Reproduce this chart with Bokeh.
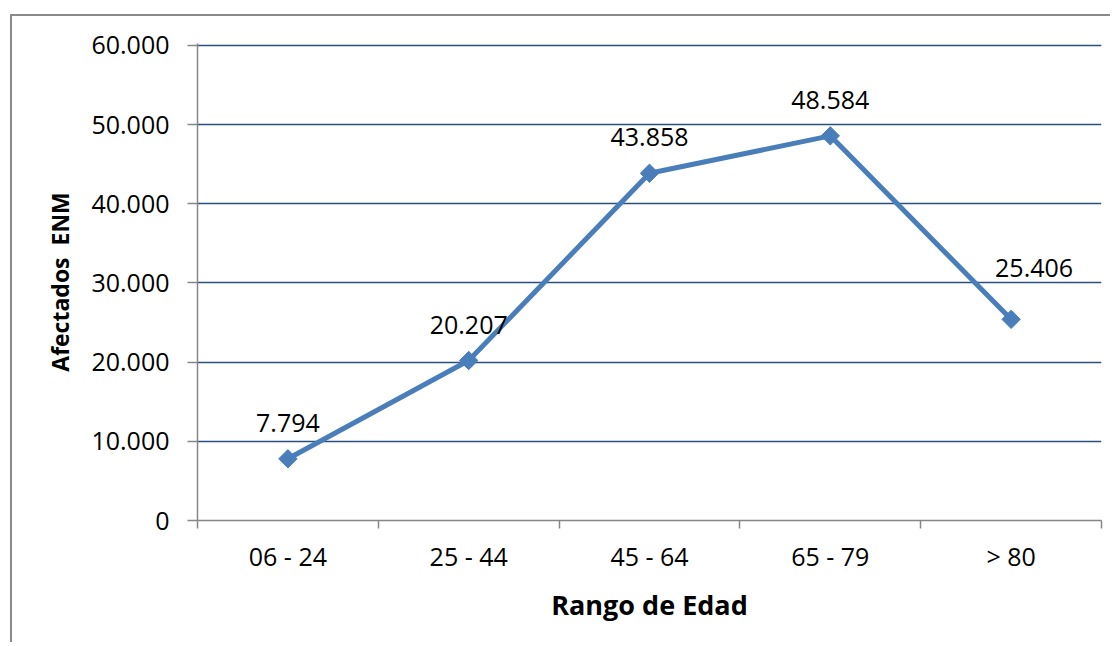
from math import pi
from bokeh.plotting import figure
from bokeh.models import ColumnDataSource, FixedTicker
from bokeh.core.properties import value
from bokeh.embed import file_html
from bokeh.resources import INLINE

categories = ["06 - 24", "25 - 44", "45 - 64", "65 - 79", "> 80"]
afectados = [7794, 20207, 43858, 48584, 25406]
y_ticks = [0, 10000, 20000, 30000, 40000, 50000, 60000]
y_tick_labels = ["0", "10.000", "20.000", "30.000", "40.000", "50.000", "60.000"]
data_labels = ["7.794", "20.207", "43.858", "48.584", "25.406"]

# label placement (screen px offsets from each point), styling only
label_dx = [0, 0, 0, 0, 23]
label_dy = [-36, -36, -36, -36, -51]

FONT = "Open Sans"
AXIS_GRAY = "#868686"
LINE_BLUE = "#4A7EBB"
GRID_BLUE = "#2B4F81"

xs = [i + 0.5 for i in range(len(categories))]
src = ColumnDataSource(dict(x=xs, y=afectados, lbl=data_labels, dx=label_dx, dy=label_dy))

p = figure(width=1100, height=628, x_range=(0, len(categories)), y_range=(0, 60250),
           output_backend="svg", toolbar_location=None,
           min_border_left=185, min_border_right=11, min_border_top=27, min_border_bottom=124,
           styles={"box-shadow": "-2px -2px 0px 0px #8a8a8a"})
p.margin = (16, 0, 0, 12)
p.outline_line_color = None
p.background_fill_color = "white"
p.border_fill_color = "white"

# y axis
p.yaxis.ticker = FixedTicker(ticks=y_ticks, minor_ticks=[])
p.yaxis.major_label_overrides = {t: s for t, s in zip(y_ticks, y_tick_labels)}
p.yaxis.axis_line_color = AXIS_GRAY
p.yaxis.axis_line_width = 1.5
p.yaxis.major_tick_line_color = AXIS_GRAY
p.yaxis.major_tick_line_width = 1.5
p.yaxis.major_tick_out = 10
p.yaxis.major_tick_in = 0
p.yaxis.minor_tick_line_color = None
p.yaxis.major_label_text_font = FONT
p.yaxis.major_label_text_font_size = "25px"
p.yaxis.major_label_text_color = "black"
p.yaxis.major_label_standoff = 18
p.yaxis.axis_label = "Afectados\u00a0 ENM"
p.yaxis.axis_label_text_font = FONT
p.yaxis.axis_label_text_font_size = "23px"
p.yaxis.axis_label_text_font_style = "bold"
p.yaxis.axis_label_text_color = "black"
p.yaxis.axis_label_standoff = 12

# x axis
p.xaxis.ticker = FixedTicker(ticks=xs, minor_ticks=list(range(len(categories) + 1)))
p.xaxis.major_label_overrides = {x: c for x, c in zip(xs, categories)}
p.xaxis.axis_line_color = AXIS_GRAY
p.xaxis.axis_line_width = 1.5
p.xaxis.major_tick_line_color = None
p.xaxis.major_tick_out = 0
p.xaxis.major_tick_in = 0
p.xaxis.minor_tick_line_color = AXIS_GRAY
p.xaxis.minor_tick_line_width = 1.5
p.xaxis.minor_tick_out = 8
p.xaxis.minor_tick_in = 0
p.xaxis.major_label_text_font = FONT
p.xaxis.major_label_text_font_size = "25px"
p.xaxis.major_label_text_color = "black"
p.xaxis.major_label_standoff = 10
p.xaxis.axis_label = "Rango de Edad"
p.xaxis.axis_label_text_font = FONT
p.xaxis.axis_label_text_font_size = "27px"
p.xaxis.axis_label_text_font_style = "bold"
p.xaxis.axis_label_text_color = "black"
p.xaxis.axis_label_standoff = 10

p.xgrid.grid_line_color = None
p.ygrid.ticker = FixedTicker(ticks=y_ticks)
p.ygrid.grid_line_color = GRID_BLUE
p.ygrid.grid_line_width = 1.6

p.line("x", "y", source=src, line_color=LINE_BLUE, line_width=5)
p.scatter("x", "y", source=src, marker="square", angle=pi / 4, size=13,
          fill_color=LINE_BLUE, line_color=LINE_BLUE)
p.text("x", "y", text="lbl", source=src, text_align="center", text_baseline="middle",
       x_offset="dx", y_offset="dy", text_font=value(FONT), text_font_size="25px",
       text_color="black")

open("out.html", "w").write(file_html(p, INLINE))
